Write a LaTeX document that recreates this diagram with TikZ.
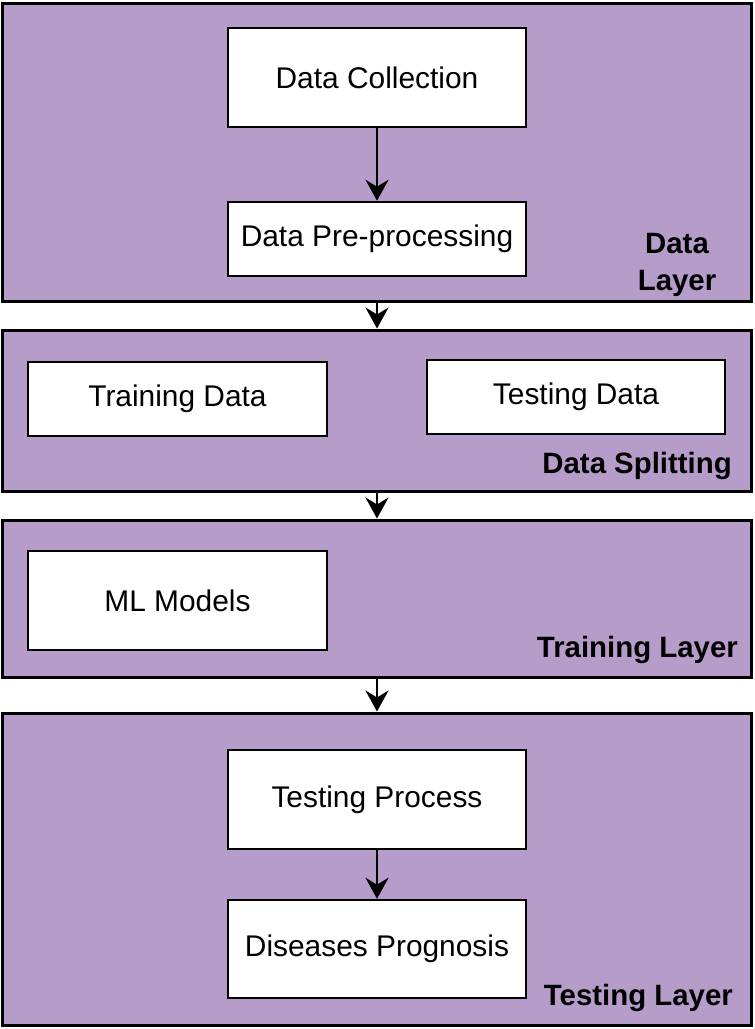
\documentclass[tikz,border=0pt]{standalone}
\usepackage{fontspec}
\setmainfont{Liberation Sans}
\usetikzlibrary{arrows.meta}
\definecolor{layerpurple}{RGB}{182,156,201}
\newcommand*{\boxfont}{\fontsize{30}{35}\selectfont}
\newcommand*{\tagfont}{\fontsize{29.5}{37}\selectfont\bfseries}
\tikzset{
  layer/.style = {draw = black, line width = 3bp, fill = layerpurple,
    inner sep = 0pt},
  stepbox/.style = {draw = black, line width = 2.5bp, fill = white,
    inner sep = 0pt, font = \boxfont},
  tag/.style = {font = \tagfont, inner sep = 0pt},
  flow/.style = {line width = 2.8bp,
    -{Stealth[length = 21bp, width = 23bp, inset = 7bp]}}
}
\begin{document}
\begin{tikzpicture}[x = 1bp, y = -1bp]
  \useasboundingbox (0,0) rectangle (755,1029);
  % the four layers
  \node[layer, minimum width = 748bp, minimum height = 298bp] (datalayer)  at (377,152)   {};
  \node[layer, minimum width = 748bp, minimum height = 161bp] (splitlayer) at (377,410.5) {};
  \node[layer, minimum width = 748bp, minimum height = 157bp] (trainlayer) at (377,598.5) {};
  \node[layer, minimum width = 748bp, minimum height = 312bp] (testlayer)  at (377,869)   {};

  % boxes inside the layers
  \node[stepbox, minimum width = 298bp, minimum height = 99bp] (collect)  at (377,77.5)  {Data Collection};
  \node[stepbox, minimum width = 298bp, minimum height = 74bp] (preproc)  at (377,239)   {Data Pre-processing};
  \node[stepbox, minimum width = 299bp, minimum height = 74bp] (traindata) at (177.5,399) {Training Data};
  \node[stepbox, minimum width = 298bp, minimum height = 74bp] (testdata) at (576,397)   {Testing Data};
  \node[stepbox, minimum width = 299bp, minimum height = 99bp] (mlmodels) at (177.5,600.5) {ML Models};
  \node[stepbox, minimum width = 298bp, minimum height = 99bp] (testproc) at (377,799.5) {Testing Process};
  \node[stepbox, minimum width = 298bp, minimum height = 98bp] (prognosis) at (377,949)  {Diseases Prognosis};

  % layer names
  \node[tag, align = center] (datatag) at (677,265) {Data\\Layer};
  \node[tag, anchor = east] (splittag) at (732,466) {Data Splitting};
  \node[tag, anchor = east] (traintag) at (738,650) {Training Layer};
  \node[tag, anchor = east] (testtag)  at (733,998) {Testing Layer};

  % arrows
  \draw[flow] (collect) -- (preproc);
  \draw[flow] (datalayer) -- (splitlayer);
  \draw[flow] (splitlayer) -- (trainlayer);
  \draw[flow] (trainlayer) -- (testlayer);
  \draw[flow] (testproc) -- (prognosis);
\end{tikzpicture}
\end{document}
